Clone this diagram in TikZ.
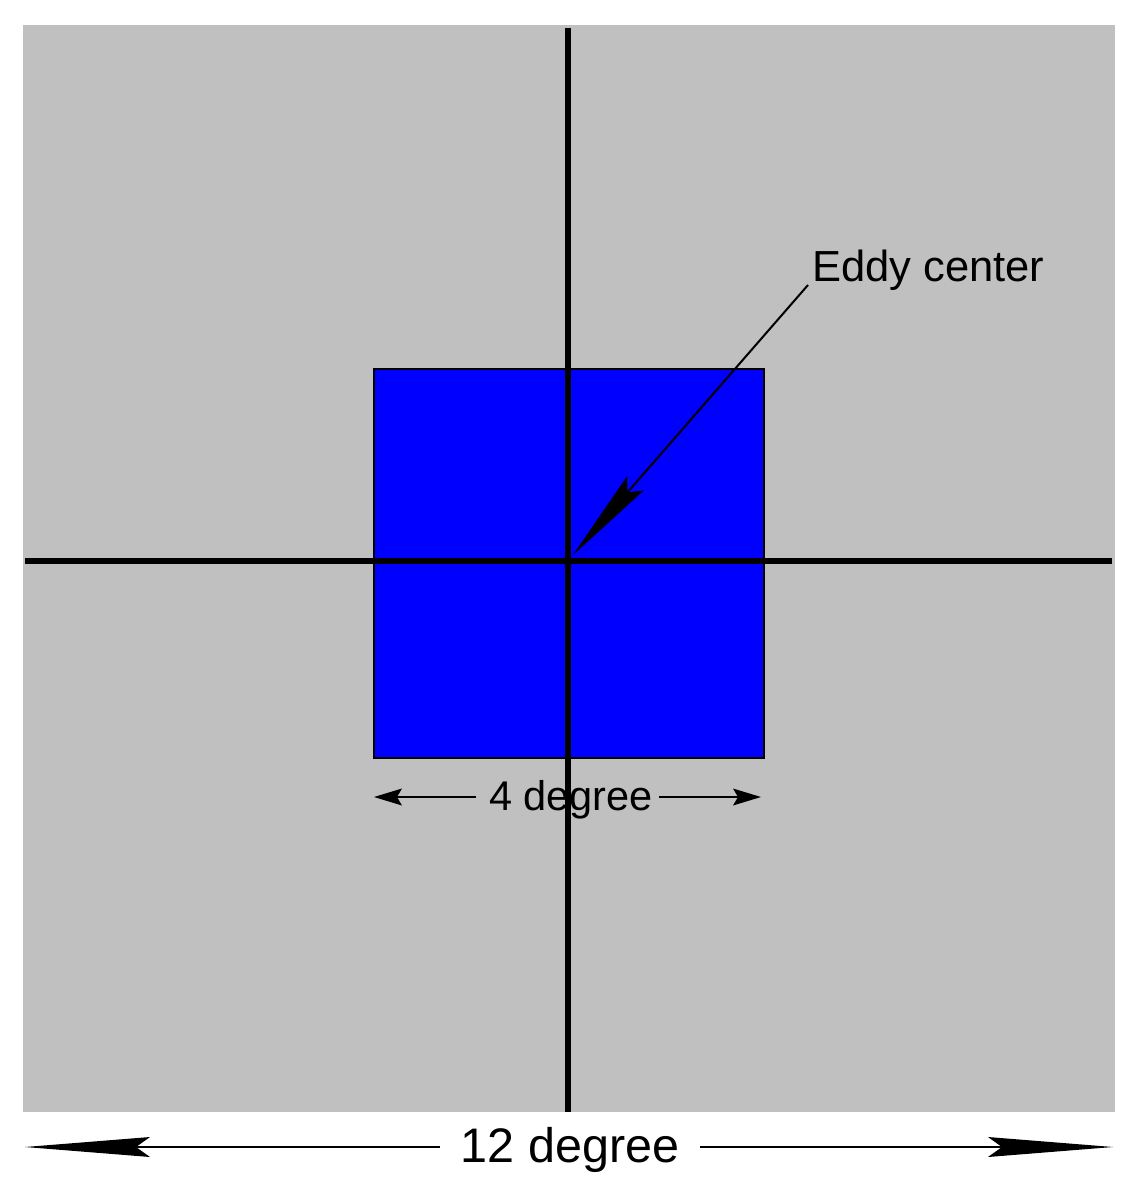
\documentclass[tikz,border=0pt]{standalone}
\usepackage{fontspec}
\setmainfont{Liberation Sans}
\usetikzlibrary{arrows.meta}
\definecolor{bggray}{HTML}{C0C0C0}
\definecolor{boxblue}{HTML}{0000FF}
\begin{document}
\begin{tikzpicture}[x=1pt,y=-1pt,
  axisline/.style={line width=6pt,black},
  dimline/.style={line width=2pt,black},
  lbl/.style={inner sep=0pt,anchor=base,text=black},
  bigtip/.style={-{Stealth[length=125pt,width=20pt,inset=14pt,line width=0pt]}},
  smalltip/.style={-{Stealth[length=28pt,width=17pt,inset=5pt,line width=0pt]}},
  eddytip/.style={-{Stealth[length=95pt,width=22pt,inset=12pt,line width=0pt]}}]
\useasboundingbox (0,0) rectangle (1139,1179);
% background square
\node[fill=bggray,draw=none,minimum width=1092pt,minimum height=1087pt,inner sep=0pt,anchor=north west] (domain) at (23,25) {};
% blue box
\node[fill=boxblue,draw=black,line width=2pt,minimum width=390pt,minimum height=389pt,inner sep=0pt,anchor=north west] (box) at (373,368) {};
% axes
\coordinate (vtop) at (568,28);
\coordinate (vbot) at (568,1112);
\coordinate (hleft) at (25,561);
\coordinate (hright) at (1112,561);
\draw[axisline] (vtop) -- (vbot);
\draw[axisline] (hleft) -- (hright);
% eddy center label and arrow
\node[lbl,anchor=base west] (eddy) at (812,281) {\fontsize{43.5}{52}\selectfont Eddy center};
\coordinate (eddystart) at (808,285);
\coordinate (center) at (573,555);
\draw[dimline,eddytip] (eddystart) -- (center);
% 4 degree
\node[lbl] (four) at (571,810) {\fontsize{41.5}{50}\selectfont 4 degree};
\coordinate (fourL) at (374,797);
\coordinate (fourR) at (761,797);
\coordinate (fourLs) at (476,797);
\coordinate (fourRs) at (659,797);
\draw[dimline,smalltip] (fourLs) -- (fourL);
\draw[dimline,smalltip] (fourRs) -- (fourR);
% 12 degree
\node[lbl] (twelve) at (570,1162) {\fontsize{48.5}{57}\selectfont 12 degree};
\coordinate (twL) at (25,1147);
\coordinate (twR) at (1113,1147);
\coordinate (twLs) at (440,1147);
\coordinate (twRs) at (700,1147);
\draw[dimline,bigtip] (twLs) -- (twL);
\draw[dimline,bigtip] (twRs) -- (twR);
\end{tikzpicture}
\end{document}
